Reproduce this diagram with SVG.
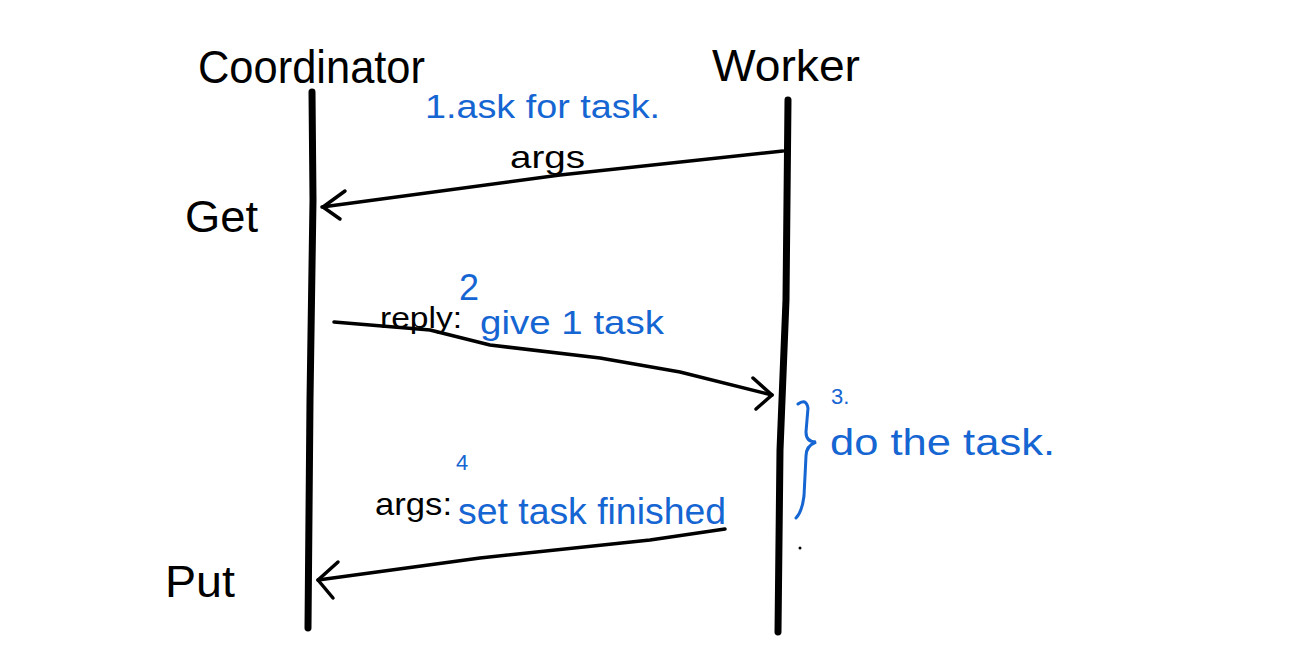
<svg xmlns="http://www.w3.org/2000/svg" width="1315" height="657" viewBox="0 0 1315 657">
<style>
.bk{fill:#000;font-family:"Liberation Sans Narrow","Liberation Sans",sans-serif}
.bl{fill:#1565d2;font-family:"Liberation Sans Narrow","Liberation Sans",sans-serif}
.life{stroke:#000;stroke-width:7;fill:none;stroke-linecap:round}
.msg{stroke:#000;stroke-width:3.5;fill:none;stroke-linecap:round;stroke-linejoin:round}
</style>
<rect width="1315" height="657" fill="#fff"/>
<g id="coordinator">
<path class="life" d="M312 92 L313 200 L310 400 L308 628"/>
<text class="bk" x="198" y="83" font-size="46" textLength="227" lengthAdjust="spacingAndGlyphs">Coordinator</text>
<text class="bk" x="185" y="232" font-size="44" textLength="73" lengthAdjust="spacingAndGlyphs">Get</text>
<text class="bk" x="165" y="597" font-size="44" textLength="70" lengthAdjust="spacingAndGlyphs">Put</text>
</g>
<g id="worker">
<path class="life" d="M788 100 L786 300 L780 450 L778 632"/>
<text class="bk" x="712" y="81" font-size="44" textLength="148" lengthAdjust="spacingAndGlyphs">Worker</text>
</g>
<g id="step3">
<path d="M798 404 Q806 398 808 408 L806 432 Q806 442 816 442 Q806 446 806 456 L804 496 Q802 512 796 518" stroke="#1565d2" stroke-width="3" fill="none" stroke-linecap="round"/>
<text class="bl" x="831" y="404" font-size="22">3.</text>
<text class="bl" x="830" y="455" font-size="36" textLength="225" lengthAdjust="spacingAndGlyphs">do the task.</text>
</g>
<g id="connectors">
<path class="msg" d="M783 151 L560 175 L322 207"/>
<path class="msg" d="M345 191 L323 207 L340 219"/>
<path class="msg" d="M334 322 L430 330 L490 345 L600 358 L680 372 L772 395"/>
<path class="msg" d="M753 378 L772 395 L756 409"/>
<path class="msg" d="M725 529 L650 540 L480 558 L318 580"/>
<path class="msg" d="M338 562 L318 580 L333 598"/>
</g>
<g id="labels">
<text class="bl" x="425" y="118" font-size="34" textLength="235" lengthAdjust="spacingAndGlyphs">1.ask for task.</text>
<text class="bk" x="510" y="168" font-size="32" textLength="75" lengthAdjust="spacingAndGlyphs">args</text>
<text class="bk" x="380" y="328" font-size="30" textLength="82" lengthAdjust="spacingAndGlyphs">reply:</text>
<text class="bl" x="459" y="300" font-size="36">2</text>
<text class="bl" x="480" y="334" font-size="34" textLength="184" lengthAdjust="spacingAndGlyphs">give 1 task</text>
<text class="bk" x="375" y="515" font-size="32" textLength="77" lengthAdjust="spacingAndGlyphs">args:</text>
<text class="bl" x="456" y="470" font-size="22">4</text>
<text class="bl" x="458" y="524" font-size="36" textLength="268" lengthAdjust="spacingAndGlyphs">set task finished</text>
<circle cx="800" cy="548" r="1.5" fill="#000"/>
</g>
</svg>
